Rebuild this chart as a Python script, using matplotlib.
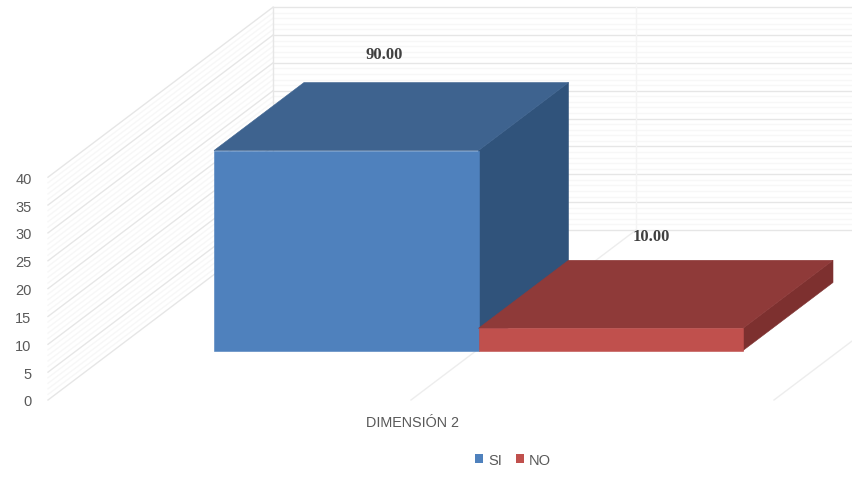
import matplotlib
matplotlib.use('Agg')
import matplotlib.pyplot as plt
from matplotlib.patches import Polygon, Patch

categories = ['SI', 'NO']
values = [90.00, 10.00]
value_labels = ['90.00', '10.00']
axis_ticks = [0, 5, 10, 15, 20, 25, 30, 35, 40]
axis_minor = list(range(0, 41))
group_label = 'DIMENSIÓN 2'

front_colors = ['#4F81BD', '#C0504D']
top_colors = ['#3E638F', '#8F3A39']
side_colors = ['#30537B', '#7D302F']

W, H = 852, 481

# chart layout in pixels
WALL_X = 48
WALL_Y0 = 401
AXIS_STEP = 5.57     # px per axis unit
DEPTH_X, DEPTH_Y = 225, -170
FLOOR_STEP = 363
BAR_BASE = 351.5
BAR_SCALE = 2.222    # px per value unit, bars do not follow the printed axis
BAR_X0 = 214
BAR_W = 264.5
BAR_DX, BAR_DY = 90, -68
LABEL_SHIFT = [(38, -28.5), (41, -24.5)]


def axis_y(v):
    return WALL_Y0 - v * AXIS_STEP


fig = plt.figure(figsize=(W / 100, H / 100), dpi=100)
ax = fig.add_axes([0, 0, 1, 1])
ax.set_xlim(0, W)
ax.set_ylim(H, 0)
ax.axis('off')

# walls: minor lines first, major on top
for v in axis_minor:
    y = axis_y(v)
    major = v in axis_ticks
    color = '#E6E6E6' if major else '#F7F7F7'
    z = 2 if major else 1
    ax.plot([WALL_X, WALL_X + DEPTH_X], [y, y + DEPTH_Y], color=color, lw=1, zorder=z)
    ax.plot([WALL_X + DEPTH_X, W], [y + DEPTH_Y, y + DEPTH_Y], color=color, lw=1, zorder=z)

# vertical wall lines and floor lines
top = axis_y(40) + DEPTH_Y
bottom = axis_y(0) + DEPTH_Y
ax.plot([WALL_X + DEPTH_X] * 2, [top, bottom], color='#E6E6E6', lw=1, zorder=2)
ax.plot([WALL_X + DEPTH_X + FLOOR_STEP] * 2, [top, bottom], color='#F4F4F4', lw=1, zorder=2)
for i in [1, 2]:
    x0 = WALL_X + i * FLOOR_STEP
    ax.plot([x0, x0 + DEPTH_X], [WALL_Y0, WALL_Y0 + DEPTH_Y],
            color='#EDEDED', lw=1, zorder=2, clip_on=True)

# bars, drawn left to right
for i, val in enumerate(values):
    x0 = BAR_X0 + i * BAR_W
    x1 = x0 + BAR_W
    y1 = BAR_BASE - val * BAR_SCALE
    front = [(x0, BAR_BASE), (x1, BAR_BASE), (x1, y1), (x0, y1)]
    roof = [(x0, y1), (x1, y1), (x1 + BAR_DX, y1 + BAR_DY), (x0 + BAR_DX, y1 + BAR_DY)]
    side = [(x1, BAR_BASE), (x1 + BAR_DX, BAR_BASE + BAR_DY),
            (x1 + BAR_DX, y1 + BAR_DY), (x1, y1)]
    # thin edge in the face colour closes the seams between faces
    ax.add_patch(Polygon(side, facecolor=side_colors[i], edgecolor=side_colors[i], lw=0.4, zorder=3 + i))
    ax.add_patch(Polygon(roof, facecolor=top_colors[i], edgecolor=top_colors[i], lw=0.4, zorder=3 + i))
    ax.add_patch(Polygon(front, facecolor=front_colors[i], edgecolor=front_colors[i], lw=0.4, zorder=3 + i))
    ax.text(x0 + BAR_W / 2 + LABEL_SHIFT[i][0], y1 + BAR_DY + LABEL_SHIFT[i][1], value_labels[i],
            ha='center', va='center', family='Liberation Serif', weight='bold',
            fontsize=12, color='#404040', zorder=6)

for v in axis_ticks:
    ax.text(31.5, axis_y(v) + 1.5, str(v), ha='right', va='center',
            family='Liberation Sans', fontsize=10.5, color='#595959')

ax.text(412, 423, group_label, ha='center', va='center',
        family='Liberation Sans', fontsize=10.4, color='#595959')

handles = [Patch(facecolor=c, edgecolor='none', label=n) for c, n in zip(front_colors, categories)]
ax.legend(handles=handles, loc='center', bbox_to_anchor=(513 / W, 1 - 461 / H), ncol=2,
          frameon=False, handlelength=0.55, handleheight=0.6, handletextpad=0.35,
          columnspacing=0.95, prop={'family': 'Liberation Sans', 'size': 10.5},
          labelcolor='#595959')

fig.savefig('out.png', dpi=100)
